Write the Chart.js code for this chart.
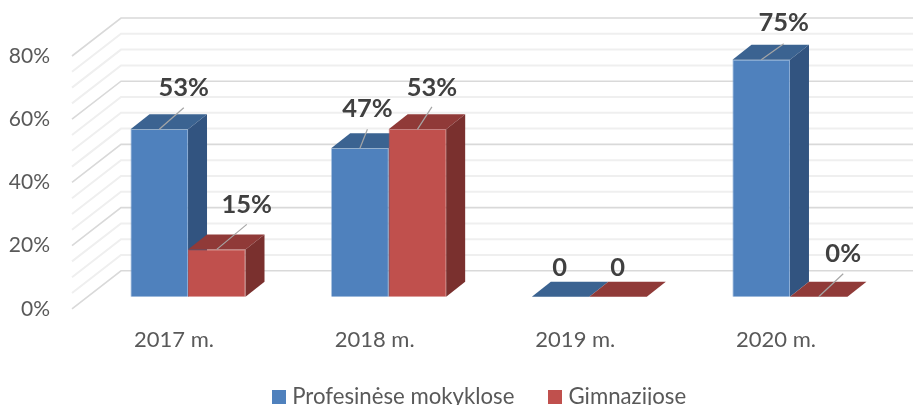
<!DOCTYPE html>
<html><head><meta charset="utf-8">
<style>html,body{margin:0;padding:0;background:#fff}canvas{display:block}</style>
<script src="https://cdn.jsdelivr.net/npm/chart.js@4"></script>
</head><body><canvas id="c" width="913" height="405"></canvas>
<script>
const categories = ["2017 m.", "2018 m.", "2019 m.", "2020 m."];
const seriesNames = ["Profesinėse mokyklose", "Gimnazijose"];
const profesinese = [53, 47, 0, 75];
const gimnazijose = [15, 53, 0, 0];
const profesineseLabels = ["53%", "47%", "0", "75%"];
const gimnazijoseLabels = ["15%", "53%", "0", "0%"];

// 3D look: layout constants (pixels)
const BAR_LIFT = 12, BAR_DX = 19, BAR_DY = 15, WALL_DX = 49, WALL_DY = 38, WALL_RIGHT = 913;
const faces = [
  {front:'#4f81bd', top:'#3b6391', side:'#325480', edge:'#7ea3d0'},
  {front:'#c0504d', top:'#903a38', side:'#7a302e', edge:'#c0504d'}
];
// label centre / leader end relative to the bar's top centre
const callouts = [
  [{dx:24.5,dy:-42,ly:-21.5},{dx:7.5,dy:-39.5,ly:-19},{dx:-1,dy:-29,ly:null},{dx:22.5,dy:-37,ly:-16}],
  [{dx:30,dy:-45,ly:-25},{dx:14.5,dy:-41.5,ly:-22.5},{dx:-0.5,dy:-29,ly:null},{dx:24.5,dy:-43,ly:-23}]
];
const labelTexts = [profesineseLabels, gimnazijoseLabels];

function poly(ctx, pts, fill){
  ctx.beginPath(); pts.forEach((p,i)=> i?ctx.lineTo(p[0],p[1]):ctx.moveTo(p[0],p[1]));
  ctx.closePath(); ctx.fillStyle=fill; ctx.fill();
}
function swatch(color){
  const s = document.createElement('canvas'); s.width = s.height = 14;
  const g = s.getContext('2d'); g.fillStyle = color; g.fillRect(0,0,14,14);
  return s;
}
const bars3d = {
  id:'bars3d',
  afterLayout(chart){
    const l = chart.legend;
    l.left += 73; l.top = 347; l.bottom = 405;
    chart.scales.x.bottom = 360; // tick labels are clipped to the scale box
  },
  beforeDatasetsDraw(chart){
    const ctx = chart.ctx, y = chart.scales.y, x0 = y.right - 15.7;
    ctx.save();
    const minor = y.ticks.filter(t=>t.value%20!==0), major = y.ticks.filter(t=>t.value%20===0);
    const line = (t,col,w)=>{
      const py = y.getPixelForValue(t.value);
      ctx.strokeStyle=col; ctx.lineWidth=w; ctx.beginPath();
      ctx.moveTo(x0,py); ctx.lineTo(x0+WALL_DX,py-WALL_DY); ctx.lineTo(WALL_RIGHT,py-WALL_DY); ctx.stroke();
    };
    minor.forEach(t=>line(t,'#efefef',2));
    major.forEach(t=>line(t,'#d9d9d9',1.6));
    ctx.restore();
  },
  // the library paints the last dataset first; here each series is painted left to right instead
  beforeDatasetDraw(){ return false; },
  afterDatasetsDraw(chart){
    const ctx = chart.ctx;
    chart.data.datasets.forEach((d,di)=>{
      const meta = chart.getDatasetMeta(di), f = faces[di];
      ctx.save(); ctx.translate(0,-BAR_LIFT);
      meta.controller.draw();
      meta.data.forEach(b=>{
        const l=b.x-b.width/2, r=b.x+b.width/2, t=b.y, bt=b.base;
        poly(ctx,[[l,t],[r,t],[r+BAR_DX,t-BAR_DY],[l+BAR_DX,t-BAR_DY]],f.top);
        if(bt-t>0.5) poly(ctx,[[r,t],[r+BAR_DX,t-BAR_DY],[r+BAR_DX,bt-BAR_DY],[r,bt]],f.side);
      });
      ctx.restore();
    });
    ctx.save();
    chart.data.datasets.forEach((d,di)=>{
      chart.getDatasetMeta(di).data.forEach((b,i)=>{
        const c = callouts[di][i], top = b.y-BAR_LIFT;
        if(c.ly!==null){
          ctx.strokeStyle='#a6a6a6'; ctx.lineWidth=1.2; ctx.beginPath();
          ctx.moveTo(b.x,top); ctx.lineTo(b.x+c.dx,top+c.ly); ctx.stroke();
        }
        ctx.fillStyle='#404040'; ctx.font='bold 25.5px Lato'; ctx.textAlign='center'; ctx.textBaseline='middle';
        ctx.fillText(labelTexts[di][i], b.x+c.dx, top+c.dy);
      });
    });
    ctx.restore();
  }
};
new Chart(document.getElementById('c'),{
  type:'bar',
  plugins:[bars3d],
  data:{labels:categories,datasets:[
    {label:seriesNames[0],data:profesinese,backgroundColor:faces[0].front,borderColor:faces[0].edge,borderWidth:0.8,clip:false},
    {label:seriesNames[1],data:gimnazijose,backgroundColor:faces[1].front,borderColor:faces[1].edge,borderWidth:0.8,clip:false}
  ]},
  options:{
    responsive:false,animation:false,
    layout:{padding:{top:56,right:22.7,left:0,bottom:0}},
    datasets:{bar:{categoryPercentage:0.573,barPercentage:1}},
    plugins:{
      tooltip:{enabled:false},
      legend:{position:'bottom',labels:{
        font:{family:'Lato',size:22.2},color:'#595959',usePointStyle:true,pointStyleWidth:4,boxHeight:14,padding:39,
        generateLabels:chart=>chart.data.datasets.map((d,i)=>({
          text:d.label,datasetIndex:i,fontColor:'#595959',pointStyle:swatch(faces[i].front),lineWidth:0,hidden:false
        }))
      }}
    },
    scales:{
      x:{
        grid:{display:false,drawTicks:false},border:{display:false},
        ticks:{font:{family:'Lato',size:22},color:'#595959',labelOffset:-14,padding:18,maxRotation:0},
        afterFit(s){s.height=25;}
      },
      y:{
        min:0,max:80,
        grid:{display:false,drawTicks:false},border:{display:false},
        ticks:{stepSize:5,autoSkip:false,font:{family:'Lato',size:21},color:'#595959',padding:37.7,
          callback:v=>v%20===0?v+'%':''},
        afterFit(s){s.width=87.7;}
      }
    }
  }
});
</script></body></html>
